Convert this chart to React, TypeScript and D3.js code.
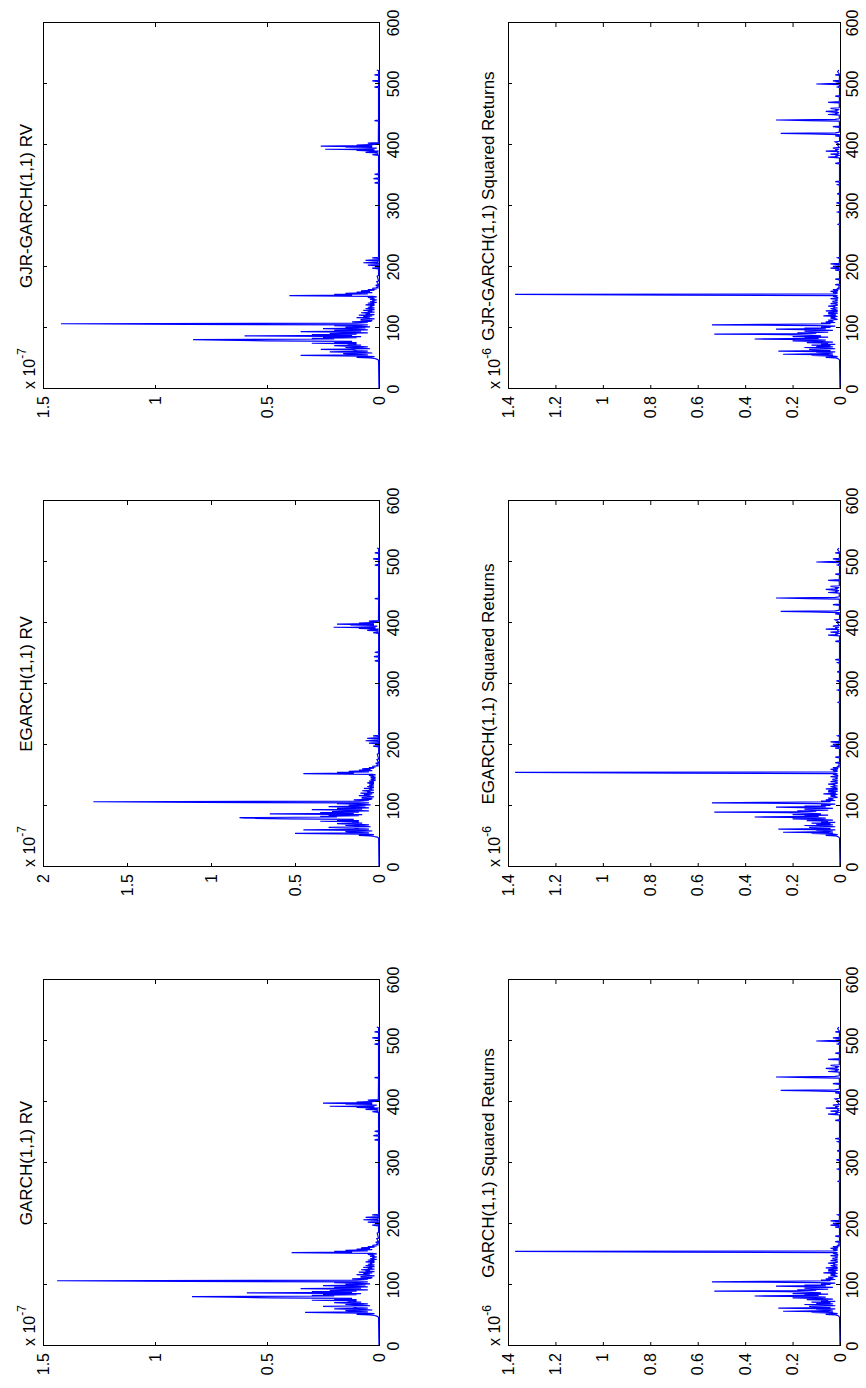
import React from 'react';
import * as d3 from 'd3';

// ---- tick values ----
const xTicks = [0, 100, 200, 300, 400, 500, 600];
const rvTicks15 = [0, 0.5, 1, 1.5];
const rvTicks2 = [0, 0.5, 1, 1.5, 2];
const srTicks = [0, 0.2, 0.4, 0.6, 0.8, 1, 1.2, 1.4];

// ---- series (RV in units of 1e-7, squared returns in units of 1e-6) ----
// each series: leading points [day, value], a dense block of daily values from day CORE_START, then trailing points
const CORE_START = 48;

const garchRVHead: [number, number][] = [[1, 0], [47, 0.002]];
const garchRVCore = [
  0.005, 0.01, 0.02, 0.04, 0.1, 0.02, 0.08, 0.33, 0.05, 0.12,
  0.15, 0.03, 0.08, 0.2, 0.05, 0.1, 0.12, 0.25, 0.04, 0.09,
  0.15, 0.05, 0.11, 0.2, 0.08, 0.14, 0.1, 0.3, 0.1, 0.2,
  0.12, 0.48, 0.66, 0.835, 0.2, 0.3, 0.1, 0.25, 0.08, 0.59,
  0.12, 0.3, 0.1, 0.22, 0.05, 0.15, 0.35, 0.08, 0.2, 0.05,
  0.12, 0.25, 0.06, 0.15, 0.04, 0.1, 0.2, 0.05, 0.866, 1.437,
  0.1, 0.05, 0.12, 0.04, 0.03, 0.08, 0.08, 0.02, 0.05, 0.1,
  0.04, 0.07, 0.03, 0.09, 0.02, 0.06, 0.04, 0.08, 0.02, 0.05,
  0.03, 0.07, 0.02, 0.04, 0.06, 0.02, 0.05, 0.03, 0.04, 0.02,
  0.06, 0.02, 0.03, 0.05, 0.01, 0.04, 0.02, 0.03, 0.01, 0.04,
  0.02, 0.03, 0.05, 0.01, 0.03, 0.39, 0.12, 0.2, 0.05, 0.15,
  0.03, 0.1, 0.04, 0.08, 0.02, 0.05, 0.01, 0.03, 0.005, 0.01,
];
const garchRVTail: [number, number][] = [
  [169, 0.002], [170, 0.015], [171, 0.002], [176, 0.01], [177, 0.002], [185, 0.008], [186, 0.002],
  [197, 0.002], [198, 0.03], [199, 0.003], [202, 0.002], [203, 0.05], [204, 0.004], [206, 0.003], [207, 0.07],
  [208, 0.005], [210, 0.003], [211, 0.06], [212, 0.003], [214, 0.002], [215, 0.03], [216, 0.002], [280, 0.002],
  [337, 0.002], [338, 0.02], [339, 0.002], [344, 0.002], [345, 0.025], [346, 0.002], [351, 0.002], [352, 0.02],
  [353, 0.002], [383, 0.002], [384, 0.03], [385, 0.005], [387, 0.005], [388, 0.06], [389, 0.01], [390, 0.005],
  [391, 0.1], [392, 0.02], [393, 0.22], [394, 0.03], [395, 0.01], [396, 0.15], [397, 0.03], [398, 0.25],
  [399, 0.03], [400, 0.1], [401, 0.01], [402, 0.005], [403, 0.05], [404, 0.003], [439, 0.002], [440, 0.02],
  [441, 0.002], [494, 0.002], [495, 0.02], [496, 0.002], [504, 0.002], [505, 0.03], [506, 0.002], [514, 0.002],
  [515, 0.02], [516, 0.002], [522, 0.002], [523, 0.01],
];

const egarchRVHead: [number, number][] = [[1, 0], [47, 0.002]];
const egarchRVCore = [
  0.005, 0.01, 0.03, 0.05, 0.12, 0.03, 0.1, 0.5, 0.06, 0.15,
  0.2, 0.04, 0.1, 0.45, 0.06, 0.12, 0.15, 0.3, 0.05, 0.1,
  0.2, 0.06, 0.13, 0.25, 0.1, 0.16, 0.12, 0.35, 0.12, 0.25,
  0.15, 0.55, 0.8, 0.83, 0.25, 0.35, 0.12, 0.3, 0.1, 0.65,
  0.15, 0.35, 0.12, 0.28, 0.06, 0.18, 0.4, 0.1, 0.25, 0.06,
  0.15, 0.3, 0.08, 0.18, 0.05, 0.12, 0.25, 0.06, 1.05, 1.7,
  0.12, 0.06, 0.15, 0.05, 0.04, 0.1, 0.1, 0.03, 0.06, 0.12,
  0.05, 0.09, 0.04, 0.11, 0.03, 0.07, 0.05, 0.1, 0.03, 0.06,
  0.04, 0.09, 0.03, 0.05, 0.07, 0.03, 0.06, 0.04, 0.05, 0.03,
  0.07, 0.03, 0.04, 0.06, 0.02, 0.05, 0.03, 0.04, 0.02, 0.05,
  0.03, 0.04, 0.06, 0.02, 0.04, 0.45, 0.15, 0.25, 0.06, 0.18,
  0.04, 0.12, 0.05, 0.1, 0.03, 0.06, 0.02, 0.04, 0.006, 0.012,
];
const egarchRVTail: [number, number][] = [
  [169, 0.002], [170, 0.02], [171, 0.002], [176, 0.012], [177, 0.002], [185, 0.01], [186, 0.002],
  [197, 0.002], [198, 0.035], [199, 0.003], [202, 0.002], [203, 0.06], [204, 0.004], [206, 0.003], [207, 0.08],
  [208, 0.005], [210, 0.003], [211, 0.07], [212, 0.003], [214, 0.002], [215, 0.035], [216, 0.002], [280, 0.002],
  [337, 0.002], [338, 0.025], [339, 0.002], [344, 0.002], [345, 0.03], [346, 0.002], [351, 0.002], [352, 0.025],
  [353, 0.002], [383, 0.002], [384, 0.035], [385, 0.005], [387, 0.005], [388, 0.07], [389, 0.01], [390, 0.005],
  [391, 0.12], [392, 0.02], [393, 0.27], [394, 0.03], [395, 0.01], [396, 0.17], [397, 0.03], [398, 0.25],
  [399, 0.03], [400, 0.12], [401, 0.01], [402, 0.005], [403, 0.06], [404, 0.003], [439, 0.002], [440, 0.025],
  [441, 0.002], [494, 0.002], [495, 0.025], [496, 0.002], [504, 0.002], [505, 0.035], [506, 0.002], [514, 0.002],
  [515, 0.025], [516, 0.002], [522, 0.002], [523, 0.012],
];

const gjrRVHead: [number, number][] = [[1, 0], [47, 0.002]];
const gjrRVCore = [
  0.005, 0.01, 0.02, 0.04, 0.1, 0.02, 0.08, 0.35, 0.05, 0.12,
  0.16, 0.03, 0.08, 0.22, 0.05, 0.1, 0.12, 0.26, 0.04, 0.09,
  0.15, 0.05, 0.11, 0.2, 0.08, 0.14, 0.1, 0.3, 0.1, 0.2,
  0.12, 0.5, 0.7, 0.83, 0.2, 0.3, 0.1, 0.25, 0.08, 0.6,
  0.12, 0.3, 0.1, 0.22, 0.05, 0.15, 0.35, 0.08, 0.2, 0.05,
  0.12, 0.25, 0.06, 0.15, 0.04, 0.1, 0.2, 0.05, 0.86, 1.42,
  0.1, 0.05, 0.12, 0.04, 0.03, 0.08, 0.08, 0.02, 0.05, 0.1,
  0.04, 0.07, 0.03, 0.09, 0.02, 0.06, 0.04, 0.08, 0.02, 0.05,
  0.03, 0.07, 0.02, 0.04, 0.06, 0.02, 0.05, 0.03, 0.04, 0.02,
  0.06, 0.02, 0.03, 0.05, 0.01, 0.04, 0.02, 0.03, 0.01, 0.04,
  0.02, 0.03, 0.05, 0.01, 0.03, 0.4, 0.12, 0.2, 0.05, 0.15,
  0.03, 0.1, 0.04, 0.08, 0.02, 0.05, 0.01, 0.03, 0.005, 0.01,
];
const gjrRVTail: [number, number][] = [
  [169, 0.002], [170, 0.015], [171, 0.002], [176, 0.01], [177, 0.002], [185, 0.008], [186, 0.002],
  [197, 0.002], [198, 0.03], [199, 0.003], [202, 0.002], [203, 0.05], [204, 0.004], [206, 0.003], [207, 0.07],
  [208, 0.005], [210, 0.003], [211, 0.06], [212, 0.003], [214, 0.002], [215, 0.03], [216, 0.002], [280, 0.002],
  [337, 0.002], [338, 0.02], [339, 0.002], [344, 0.002], [345, 0.025], [346, 0.002], [351, 0.002], [352, 0.02],
  [353, 0.002], [383, 0.002], [384, 0.03], [385, 0.005], [387, 0.005], [388, 0.06], [389, 0.01], [390, 0.005],
  [391, 0.1], [392, 0.02], [393, 0.24], [394, 0.03], [395, 0.01], [396, 0.15], [397, 0.03], [398, 0.26],
  [399, 0.03], [400, 0.1], [401, 0.01], [402, 0.005], [403, 0.05], [404, 0.003], [439, 0.002], [440, 0.02],
  [441, 0.002], [494, 0.002], [495, 0.02], [496, 0.002], [504, 0.002], [505, 0.03], [506, 0.002], [514, 0.002],
  [515, 0.02], [516, 0.002], [522, 0.002], [523, 0.01],
];

const srHead: [number, number][] = [[1, 0], [47, 0.002]];
const srCore = [
  0.003, 0.005, 0.01, 0.02, 0.06, 0.01, 0.03, 0.12, 0.03, 0.24,
  0.05, 0.03, 0.1, 0.02, 0.26, 0.04, 0.08, 0.13, 0.02, 0.06,
  0.15, 0.03, 0.1, 0.04, 0.12, 0.02, 0.08, 0.05, 0.14, 0.03,
  0.1, 0.2, 0.06, 0.12, 0.36, 0.09, 0.15, 0.05, 0.2, 0.08,
  0.12, 0.22, 0.53, 0.1, 0.18, 0.05, 0.12, 0.15, 0.03, 0.1,
  0.27, 0.06, 0.15, 0.04, 0.08, 0.02, 0.1, 0.54, 0.27, 0.04,
  0.08, 0.02, 0.06, 0.03, 0.03, 0.05, 0.01, 0.02, 0.04, 0.02,
  0.04, 0.01, 0.07, 0.02, 0.02, 0.05, 0.01, 0.05, 0.03, 0.01,
  0.06, 0.01, 0.02, 0.03, 0.04, 0.01, 0.03, 0.02, 0.05, 0.01,
  0.02, 0.01, 0.04, 0.02, 0.01, 0.03, 0.03, 0.01, 0.02, 0.01,
  0.04, 0.01, 0.01, 0.02, 0.03, 0.01, 0.68, 1.37, 0.02, 0.01,
  0.03, 0.01, 0.04, 0.01, 0.01, 0.03, 0.005, 0.01, 0.003, 0.005,
];
const srTail: [number, number][] = [
  [170, 0.002], [171, 0.02], [172, 0.002], [179, 0.002], [180, 0.02], [181, 0.002], [194, 0.002], [195, 0.02],
  [196, 0.003], [197, 0.002], [198, 0.04], [199, 0.005], [200, 0.003], [201, 0.03], [202, 0.004], [204, 0.003],
  [205, 0.04], [206, 0.003], [214, 0.002], [215, 0.01], [216, 0.002], [269, 0.002], [270, 0.008], [271, 0.002],
  [289, 0.002], [290, 0.01], [291, 0.002], [304, 0.002], [305, 0.015], [306, 0.002], [319, 0.002], [320, 0.012],
  [321, 0.002], [334, 0.002], [335, 0.01], [336, 0.002], [339, 0.002], [340, 0.02], [341, 0.002], [369, 0.002],
  [370, 0.02], [371, 0.002], [379, 0.002], [380, 0.05], [381, 0.01], [382, 0.02], [383, 0.004], [384, 0.01],
  [385, 0.04], [386, 0.005], [388, 0.01], [389, 0.003], [390, 0.06], [391, 0.01], [392, 0.02], [393, 0.004],
  [395, 0.03], [396, 0.003], [400, 0.01], [401, 0.002], [405, 0.02], [406, 0.002], [414, 0.002], [415, 0.02],
  [416, 0.002], [417, 0.003], [418, 0.12], [419, 0.25], [420, 0.02], [421, 0.003], [429, 0.002], [430, 0.03],
  [431, 0.002], [439, 0.003], [440, 0.13], [441, 0.27], [442, 0.02], [443, 0.003], [449, 0.003], [450, 0.05],
  [451, 0.01], [452, 0.02], [453, 0.004], [455, 0.06], [456, 0.01], [457, 0.02], [458, 0.003], [460, 0.04],
  [461, 0.003], [469, 0.003], [470, 0.05], [471, 0.003], [479, 0.002], [480, 0.02], [481, 0.002], [494, 0.002],
  [495, 0.01], [496, 0.002], [499, 0.003], [500, 0.1], [501, 0.02], [502, 0.003], [504, 0.003], [505, 0.03],
  [506, 0.003], [514, 0.002], [515, 0.02], [516, 0.002], [520, 0.01], [523, 0.005],
];

const titles = [
  'GARCH(1,1) RV', 'EGARCH(1,1) RV', 'GJR-GARCH(1,1) RV',
  'GARCH(1,1) Squared Returns', 'EGARCH(1,1) Squared Returns', 'GJR-GARCH(1,1) Squared Returns',
];

function assemble(head: [number, number][], core: number[], tail: [number, number][]): [number, number][] {
  return [...head, ...core.map((v, i) => [CORE_START + i, v] as [number, number]), ...tail];
}

const garchRV = assemble(garchRVHead, garchRVCore, garchRVTail);
const egarchRV = assemble(egarchRVHead, egarchRVCore, egarchRVTail);
const gjrRV = assemble(gjrRVHead, gjrRVCore, gjrRVTail);
const squaredReturns = assemble(srHead, srCore, srTail);

// ---- layout (in the un-rotated landscape frame) ----
const FIG_W = 1388;
const FIG_H = 866;
const colLeft = [42, 521, 999];
const plotW = 366;
const rowTop = [43, 508];
const rowH = [336, 332];
const FONT = '"Liberation Sans", Arial, Helvetica, sans-serif';

interface PanelSpec {
  title: string;
  data: [number, number][];
  yMax: number;
  yTicks: number[];
  exp: string;
  col: number;
  row: number;
}

const panels: PanelSpec[] = [
  { title: titles[0], data: garchRV, yMax: 1.5, yTicks: rvTicks15, exp: '-7', col: 0, row: 0 },
  { title: titles[1], data: egarchRV, yMax: 2, yTicks: rvTicks2, exp: '-7', col: 1, row: 0 },
  { title: titles[2], data: gjrRV, yMax: 1.5, yTicks: rvTicks15, exp: '-7', col: 2, row: 0 },
  { title: titles[3], data: squaredReturns, yMax: 1.4, yTicks: srTicks, exp: '-6', col: 0, row: 1 },
  { title: titles[4], data: squaredReturns, yMax: 1.4, yTicks: srTicks, exp: '-6', col: 1, row: 1 },
  { title: titles[5], data: squaredReturns, yMax: 1.4, yTicks: srTicks, exp: '-6', col: 2, row: 1 },
];

function Panel({ p }: { p: PanelSpec }) {
  const left = colLeft[p.col];
  const top = rowTop[p.row];
  const h = rowH[p.row];
  const right = left + plotW;
  const bottom = top + h;
  const xs = d3.scaleLinear().domain([0, 600]).range([left, right]);
  const ys = d3.scaleLinear().domain([0, p.yMax]).range([bottom, top]);
  const line = d3
    .line<[number, number]>()
    .x((d) => xs(d[0]))
    .y((d) => ys(d[1]));
  const tl = 4;
  const xLabelY = bottom + (p.row === 0 ? 20 : 18);
  const titleY = top - (p.row === 0 ? 11 : 14);
  const clipId = `clip-${p.col}-${p.row}`;
  return (
    <g>
      <clipPath id={clipId}>
        <rect x={left} y={top - 1} width={plotW} height={h + 2} />
      </clipPath>
      <rect x={left + 0.5} y={top + 0.5} width={plotW} height={h} fill="none" stroke="#000" strokeWidth={1} />
      <path
        d={line(p.data) || ''}
        fill="none"
        stroke="#0000ff"
        strokeWidth={1.2}
        strokeLinejoin="miter"
        strokeMiterlimit={4}
        clipPath={`url(#${clipId})`}
      />
      {xTicks.map((t) => (
        <g key={'x' + t}>
          <line x1={xs(t) + 0.5} x2={xs(t) + 0.5} y1={bottom} y2={bottom - tl} stroke="#000" />
          <line x1={xs(t) + 0.5} x2={xs(t) + 0.5} y1={top} y2={top + tl} stroke="#000" />
          <text x={xs(t)} y={xLabelY} textAnchor="middle" fontSize={16} fontFamily={FONT} fill="#000">
            {String(t)}
          </text>
        </g>
      ))}
      {p.yTicks.map((t) => (
        <g key={'y' + t}>
          <line x1={left} x2={left + tl} y1={ys(t) + 0.5} y2={ys(t) + 0.5} stroke="#000" />
          <line x1={right} x2={right - tl} y1={ys(t) + 0.5} y2={ys(t) + 0.5} stroke="#000" />
          <text x={left - 7} y={ys(t)} dy="0.35em" textAnchor="end" fontSize={16} fontFamily={FONT} fill="#000">
            {String(t)}
          </text>
        </g>
      ))}
      <text x={left} y={top - 8} fontSize={16} fontFamily={FONT} fill="#000">
        x 10
        <tspan dy={-9} fontSize={12}>
          {p.exp}
        </tspan>
      </text>
      <text x={(left + right) / 2} y={titleY} textAnchor="middle" fontSize={17} fontFamily={FONT} fill="#000">
        {p.title}
      </text>
    </g>
  );
}

export default function App() {
  return (
    <svg
      width={FIG_H}
      height={FIG_W}
      viewBox={`0 0 ${FIG_H} ${FIG_W}`}
      style={{ position: 'absolute', left: 0, top: 0, background: '#fff' }}
    >
      <rect x={0} y={0} width={FIG_H} height={FIG_W} fill="#fff" />
      <g transform={`translate(0, ${FIG_W}) rotate(-90)`}>
        {panels.map((p) => (
          <Panel key={p.title} p={p} />
        ))}
      </g>
    </svg>
  );
}
